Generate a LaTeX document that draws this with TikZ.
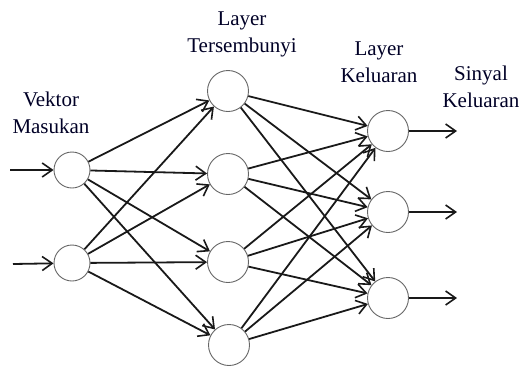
\documentclass[tikz,border=0pt]{standalone}
\usepackage{fontspec}
\setmainfont{Liberation Serif}
\usetikzlibrary{arrows.meta}
\begin{document}
\begin{tikzpicture}[x=1pt,y=-1pt,
  neuron/.style={circle,draw=black!60,line width=0.9pt,minimum size=41pt,inner sep=0pt},
  conn/.style={line width=1.8pt,draw=black!90,-{Straight Barb[length=10pt,width=14pt,line width=1.6pt]}},
  lbl/.style={align=center,anchor=base,inner sep=0pt,text=black!85!blue,font=\fontsize{21}{27}\selectfont}]
\useasboundingbox (0,0) rectangle (520,368);
% nodes
\node[neuron,minimum size=36pt] (in1) at (72,170) {};
\node[neuron,minimum size=36pt] (in2) at (72,263) {};
\node[neuron] (h1) at (228,91) {};
\node[neuron] (h2) at (228,174) {};
\node[neuron] (h3) at (228,262) {};
\node[neuron] (h4) at (229,345) {};
\node[neuron] (o1) at (388,131) {};
\node[neuron] (o2) at (388,212) {};
\node[neuron] (o3) at (388,298) {};
% labels
\node[lbl] (lin) at (51,133) {Vektor\\Masukan};
\node[lbl] (lhid) at (242,52) {Layer\\Tersembunyi};
\node[lbl] (lout) at (379,82) {Layer\\Keluaran};
\node[lbl] (lsig) at (481,107) {Sinyal\\Keluaran};
% free ends
\coordinate (s1) at (10,170);
\coordinate (s2) at (13,264);
\coordinate (e1) at (457,131);
\coordinate (e2) at (457,212);
\coordinate (e3) at (457,298);
% connectors
\draw[conn] (s1) -- (in1);
\draw[conn] (s2) -- (in2);
\foreach \i in {1,2}{
  \foreach \j in {1,2,3,4}{
    \draw[conn] (in\i) -- (h\j);
  }
}
\foreach \j in {1,2,3,4}{
  \foreach \k in {1,2,3}{
    \draw[conn] (h\j) -- (o\k);
  }
}
\draw[conn] (o1) -- (e1);
\draw[conn] (o2) -- (e2);
\draw[conn] (o3) -- (e3);
\end{tikzpicture}
\end{document}
